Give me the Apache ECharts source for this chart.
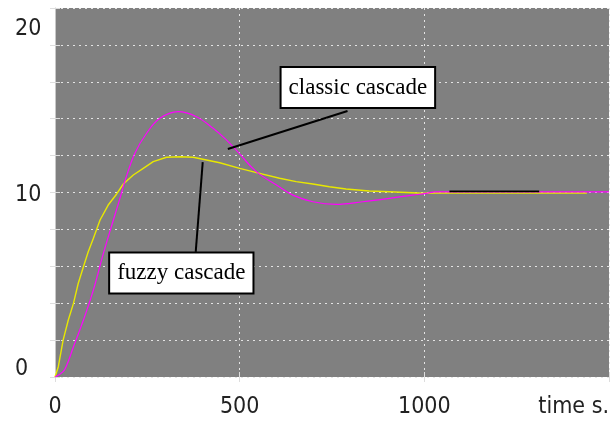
<!DOCTYPE html>
<html>
<head>
<meta charset="utf-8">
<script src="https://cdn.jsdelivr.net/npm/echarts@6/dist/echarts.min.js"></script>
<style>
  html, body { margin: 0; padding: 0; background: #fff; }
  #chart { width: 614px; height: 421px; }
</style>
</head>
<body>
<div id="chart"></div>
<script>
// classic cascade response (magenta)
const classicT = [0, 22, 32, 50, 77, 104, 131, 158, 180, 189, 216, 248, 284, 333, 383, 428, 464, 500, 545, 608, 644, 698, 761, 833, 905, 968, 1005, 1030, 1500]
const classicY = [0, 0.29, 0.65, 1.64, 3.09, 4.72, 6.70, 8.51, 9.96, 10.6, 12.12, 13.21, 14.02, 14.38, 14.11, 13.48, 12.85, 12.09, 11.13, 10.30, 9.86, 9.50, 9.36, 9.50, 9.68, 9.86, 9.95, 10.03, 10.03]

// fuzzy cascade response (yellow)
const fuzzyT = [0, 9, 22, 36, 50, 63, 77, 90, 104, 122, 144, 167, 185, 212, 239, 266, 302, 338, 374, 410, 446, 500, 554, 608, 653, 698, 743, 788, 851, 905, 968, 995, 1030, 1440]
const fuzzyY = [0, 0.56, 2.0, 3.09, 3.99, 5.08, 5.98, 6.79, 7.52, 8.51, 9.32, 9.92, 10.46, 10.95, 11.31, 11.67, 11.91, 11.94, 11.91, 11.76, 11.61, 11.31, 11.04, 10.77, 10.59, 10.46, 10.31, 10.19, 10.08, 10.04, 9.99, 9.96, 9.97, 9.97]

// short black trace at the set point
const blackT = [1068, 1311]
const blackY = [10.06, 10.06]

const xTicks = ['0', '500', '1000', 'time s.']
const yTickLabels = [0, 10, 20]

const classicLabel = 'classic cascade'
const fuzzyLabel = 'fuzzy cascade'
const classicBoxAt = [820, 15.69]
const fuzzyBoxAt = [342, 5.64]
const classicLeader = [[792, 14.42], [468, 12.36]]
const fuzzyLeader = [[400, 11.65], [381, 6.78]]

const pairs = (t, y) => t.map((v, i) => [v, y[i]])

const tickFont = '"Liberation Sans Narrow", "DejaVu Sans Condensed", "Liberation Sans", sans-serif'
const boxFont = '"Liberation Serif", "DejaVu Serif", serif'

const boxLabel = {
  show: true,
  position: 'inside',
  color: '#000',
  fontFamily: boxFont,
  fontSize: 23,
  lineHeight: 27,
  backgroundColor: '#fff',
  borderColor: '#000',
  borderWidth: 2,
  padding: [6, 7, 6, 7]
}

const chart = echarts.init(document.getElementById('chart'))

chart.setOption({
  animation: false,
  grid: {
    left: 55, right: 5, top: 8, bottom: 44,
    show: true, backgroundColor: '#808080', borderWidth: 0
  },
  xAxis: [
    {
      type: 'value', min: 0, max: 1500, interval: 500,
      axisLine: { show: false },
      axisTick: { show: true, inside: true, length: 5, lineStyle: { color: '#dddddd' } },
      splitLine: { show: true, lineStyle: { color: '#e4e4e4', type: [2, 4], width: 1 } },
      axisLabel: {
        color: '#222', fontFamily: tickFont, fontSize: 23, margin: 19,
        alignMaxLabel: 'right',
        formatter: v => xTicks[Math.round(v / 500)]
      }
    },
    {
      type: 'value', position: 'top', min: 0, max: 1500, interval: 500,
      axisLine: { show: false },
      axisTick: { show: true, inside: true, length: 5, lineStyle: { color: '#dddddd' } },
      splitLine: { show: false },
      axisLabel: { show: false }
    }
  ],
  yAxis: [
    {
      type: 'value', min: 0, max: 20, interval: 2,
      axisLine: { show: true, lineStyle: { color: '#c8c8c8', width: 1 } },
      axisTick: { show: true, inside: true, length: 5, lineStyle: { color: '#dddddd' } },
      splitLine: { show: true, lineStyle: { color: '#e4e4e4', type: [2, 4], width: 1 } },
      axisLabel: {
        color: '#222', fontFamily: tickFont, fontSize: 23, margin: 40, align: 'left',
        verticalAlignMinLabel: 'bottom',
        verticalAlignMaxLabel: 'top',
        formatter: v => {
          if (!yTickLabels.includes(v)) return ''
          if (v === 0) return '{lo|' + v + '}'
          if (v === 20) return '{hi|' + v + '}'
          return '{mid|' + v + '}'
        },
        rich: {
          lo: { lineHeight: 16 },
          hi: { lineHeight: 42 },
          mid: { lineHeight: 23, padding: [6, 0, 0, 0] }
        }
      }
    },
    {
      type: 'value', position: 'right', min: 0, max: 20, interval: 2,
      axisLine: { show: false },
      axisTick: { show: true, inside: true, length: 5, lineStyle: { color: '#dddddd' } },
      splitLine: { show: false },
      axisLabel: { show: false }
    }
  ],
  series: [
    {
      name: 'fuzzy cascade',
      type: 'line',
      data: pairs(fuzzyT, fuzzyY),
      showSymbol: false,
      lineStyle: { color: '#e8e800', width: 1.4 },
      z: 3
    },
    {
      name: 'classic cascade',
      type: 'line',
      data: pairs(classicT, classicY),
      showSymbol: false,
      smooth: 0.4,
      lineStyle: { color: '#ff00ff', width: 1.2 },
      z: 4
    },
    {
      name: 'trace',
      type: 'line',
      data: pairs(blackT, blackY),
      showSymbol: false,
      lineStyle: { color: '#000', width: 1.6 },
      z: 5,
      markLine: {
        silent: true,
        symbol: 'none',
        label: { show: false },
        lineStyle: { color: '#000', width: 2, type: 'solid' },
        data: [
          [{ coord: classicLeader[0] }, { coord: classicLeader[1] }],
          [{ coord: fuzzyLeader[0] }, { coord: fuzzyLeader[1] }]
        ]
      },
      markPoint: {
        silent: true,
        symbol: 'rect',
        symbolSize: 1,
        itemStyle: { color: 'rgba(0,0,0,0)' },
        data: [
          { coord: classicBoxAt, label: Object.assign({}, boxLabel, { formatter: classicLabel }) },
          { coord: fuzzyBoxAt, label: Object.assign({}, boxLabel, { formatter: fuzzyLabel }) }
        ]
      }
    }
  ]
})
</script>
</body>
</html>
